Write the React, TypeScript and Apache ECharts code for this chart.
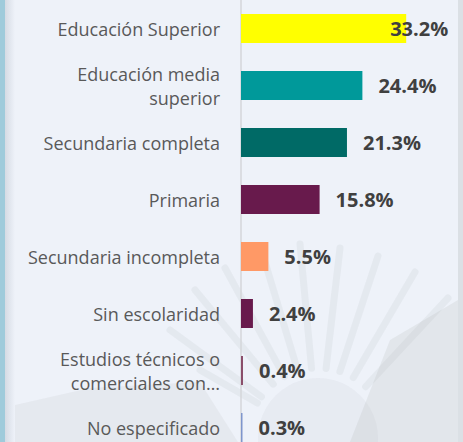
import React, { useEffect, useRef } from "react";
import * as echarts from "echarts";

const categories = [
  "Educación Superior",
  "Educación media\nsuperior",
  "Secundaria completa",
  "Primaria",
  "Secundaria incompleta",
  "Sin escolaridad",
  "Estudios técnicos o\ncomerciales con…",
  "No especificado",
];
const values = [33.2, 24.4, 21.3, 15.8, 5.5, 2.4, 0.4, 0.3];
const colors = ["#ffff00", "#00999a", "#006a66", "#681a4c", "#ff9966", "#681a4c", "#8a4d6a", "#7f96cc"];

const frondEnds: [number, number][] = [
  [170, 330], [195, 290], [225, 268], [262, 252], [300, 244], [340, 248],
  [378, 256], [415, 272], [448, 298], [200, 370],
];

export default function App() {
  const ref = useRef<HTMLDivElement>(null);
  useEffect(() => {
    if (!ref.current) return;
    const chart = echarts.init(ref.current, undefined, { renderer: "svg" });
    const cx = 318;
    const cy = 438;
    const fronds = frondEnds.map(([x, y]) => {
      const dx = x - cx;
      const dy = y - cy;
      const len = Math.sqrt(dx * dx + dy * dy);
      const sx = cx + (dx / len) * 70;
      const sy = cy + (dy / len) * 70;
      return {
        type: "line",
        z: -10,
        shape: { x1: sx, y1: sy, x2: x, y2: y },
        style: { stroke: "rgba(150,155,160,0.10)", lineWidth: 7, lineCap: "round" },
        silent: true,
      };
    });
    chart.setOption({
      animation: false,
      backgroundColor: "transparent",
      graphic: [
        {
          type: "polygon",
          z: -10,
          silent: true,
          shape: { points: [[15, 405], [90, 388], [200, 382], [238, 442], [15, 442]] },
          style: { fill: "rgba(160,160,160,0.10)" },
        },
        {
          type: "polygon",
          z: -10,
          silent: true,
          shape: { points: [[390, 340], [458, 300], [458, 442], [350, 442]] },
          style: { fill: "rgba(140,150,140,0.12)" },
        },
        {
          type: "circle",
          z: -10,
          silent: true,
          shape: { cx: cx, cy: cy, r: 60 },
          style: { fill: "rgba(150,155,160,0.08)" },
        },
        {
          type: "rect",
          z: -10,
          silent: true,
          shape: { x: 458, y: 0, width: 5, height: 442 },
          style: { fill: "rgba(200,205,210,0.5)" },
        },
        ...fronds,
      ],
      grid: { left: 241, top: 0, width: 199, height: 456, containLabel: false, outerBoundsMode: "none" },
      xAxis: {
        type: "value",
        min: 0,
        max: 40,
        show: false,
      },
      yAxis: {
        type: "category",
        data: categories,
        inverse: true,
        axisLine: { show: true, lineStyle: { color: "#d4d6da", width: 1.5 } },
        axisTick: { show: false },
        splitLine: { show: false },
        axisLabel: {
          margin: 21,
          color: "#595959",
          fontSize: 18,
          fontFamily: "Open Sans",
          lineHeight: 24,
          align: "right",
        },
      },
      series: [
        {
          type: "bar",
          barWidth: 29,
          data: values.map((v, i) => ({
            value: v,
            itemStyle: { color: colors[i] },
            label: i === 0 ? { offset: [-32, 0] } : undefined,
          })),
          label: {
            show: true,
            position: "right",
            distance: 16,
            formatter: "{c}%",
            color: "#404040",
            fontSize: 20,
            fontWeight: "bold",
            fontFamily: "Open Sans",
          },
        },
      ],
    });
    return () => chart.dispose();
  }, []);
  return (
    <div
      ref={ref}
      style={{
        position: "absolute",
        left: 0,
        top: 0,
        width: 463,
        height: 442,
        background:
          "linear-gradient(to right, #9fcbdb 0px, #9fcbdb 5px, #d5dbe4 5px, #eef2f9 15px, #eef2f9 100%)",
      }}
    />
  );
}
